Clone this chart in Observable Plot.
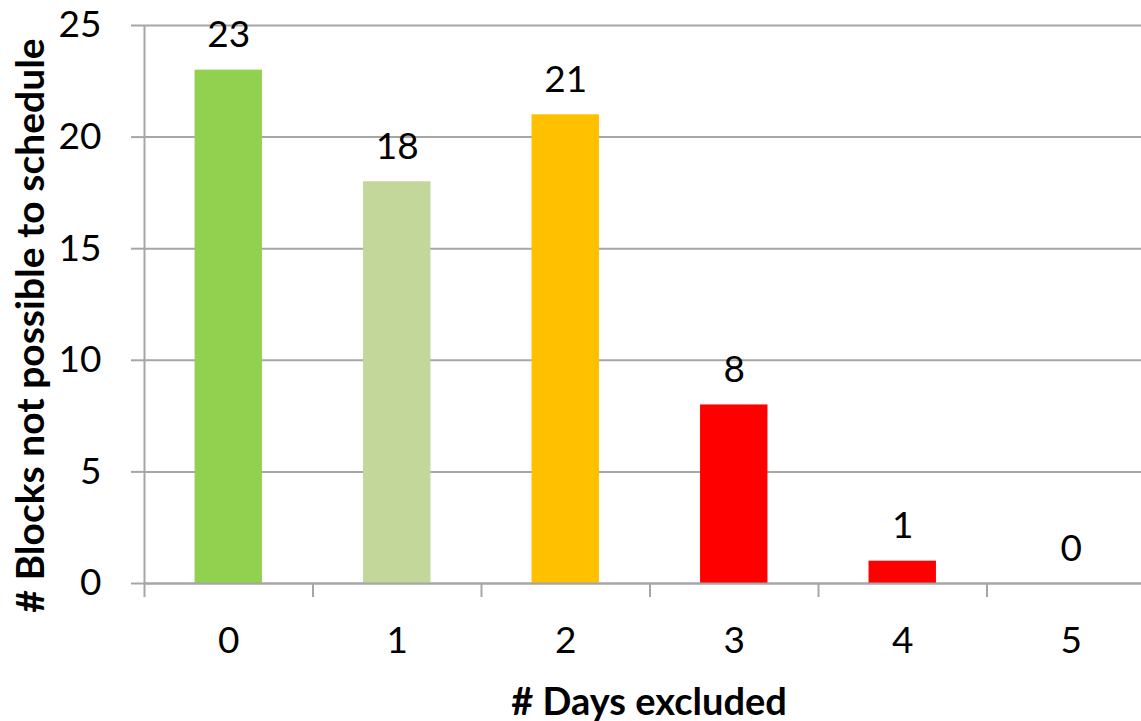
<!DOCTYPE html>
<html>
<head>
<meta charset="utf-8">
<script src="https://cdn.jsdelivr.net/npm/d3@7"></script>
<script src="https://cdn.jsdelivr.net/npm/@observablehq/plot@0.6"></script>
<style>
  html, body { margin: 0; padding: 0; background: #fff; }
  #chart svg { display: block; }
</style>
</head>
<body>
<div id="chart"></div>
<script>
// Data
const days = [0, 1, 2, 3, 4, 5];
const blocks = [23, 18, 21, 8, 1, 0];
const barColors = ["#92D050", "#C4D79B", "#FFC000", "#FF0000", "#FF0000", "#FF0000"];
const yTicks = [0, 5, 10, 15, 20, 25];
const xTitle = "# Days excluded";
const yTitle = "# Blocks not possible to schedule";

const data = days.map((d, i) => ({day: d, value: blocks[i], color: barColors[i]}));
const boundaries = days.map(d => d - 0.5);
const halfBar = 0.2;

const font = "Lato, 'Open Sans', sans-serif";
const grid = "#A6A6A6";

const chart = Plot.plot({
  width: 1141,
  height: 721,
  marginLeft: 144,
  marginRight: 0,
  marginTop: 25,
  marginBottom: 138,
  style: {fontFamily: font, background: "#fff", overflow: "hidden"},
  x: {domain: [-0.5, 5.5], range: [144, 1155]},
  y: {domain: [0, 25]},
  marks: [
    Plot.ruleY(yTicks, {stroke: grid, strokeWidth: 2}),
    Plot.ruleX([-0.5], {stroke: grid, strokeWidth: 2}),
    Plot.rectY(data, {x1: d => d.day - halfBar, x2: d => d.day + halfBar, y: "value", fill: d => d.color}),
    Plot.ruleY([0], {stroke: grid, strokeWidth: 2}),
    Plot.text(data, {x: "day", y: "value", text: d => String(d.value), lineAnchor: "bottom", dy: -23, fontSize: 37, fill: "#000"}),
    Plot.axisY({ticks: yTicks, tickSize: 13, tickPadding: 30, stroke: grid, strokeWidth: 2, fontSize: 37, color: "#000", label: null, tickFormat: d => String(d)}),
    Plot.axisX({ticks: boundaries, tickSize: 14, stroke: grid, strokeWidth: 2, tickFormat: () => "", label: null}),
    Plot.axisX({ticks: days, tickSize: 0, tickPadding: 43, fontSize: 37, color: "#000", label: null, tickFormat: d => String(d)}),
    Plot.text([xTitle], {frameAnchor: "bottom", dx: 6, dy: 131, lineAnchor: "bottom", textAnchor: "middle", fontSize: 38, fontWeight: "bold", fill: "#000"}),
    Plot.text([yTitle], {frameAnchor: "left", rotate: -90, dx: -101, dy: 21, lineAnchor: "bottom", textAnchor: "middle", fontSize: 39, fontWeight: "bold", fill: "#000"})
  ]
});
document.getElementById("chart").appendChild(chart);
</script>
</body>
</html>
